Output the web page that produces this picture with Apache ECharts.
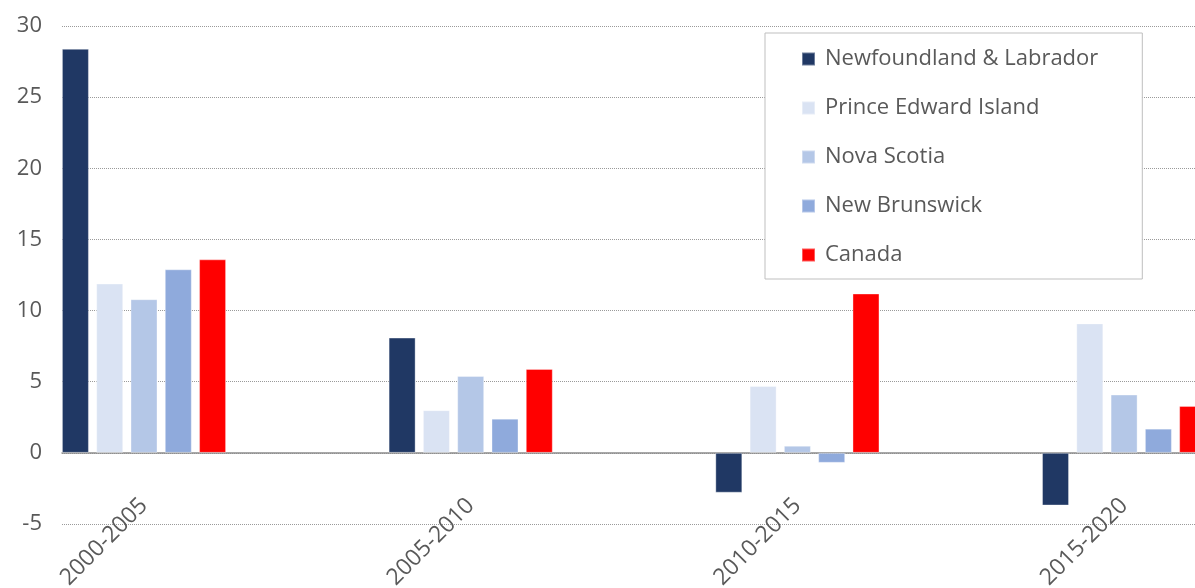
<!DOCTYPE html>
<html>
<head>
<meta charset="utf-8">
<script src="https://cdn.jsdelivr.net/npm/echarts@6/dist/echarts.min.js"></script>
<style>
html,body{margin:0;padding:0;background:#fff;}
#chart{width:1195px;height:588px;}
</style>
</head>
<body>
<div id="chart"></div>
<script>
// ---- data ----
const categories = ['2000-2005', '2005-2010', '2010-2015', '2015-2020'];
const seriesNames = ['Newfoundland & Labrador', 'Prince Edward Island', 'Nova Scotia', 'New Brunswick', 'Canada'];
const newfoundland = [28.4, 8.1, -2.8, -3.7];
const princeEdward = [11.9, 3.0, 4.7, 9.1];
const novaScotia = [10.8, 5.4, 0.5, 4.1];
const newBrunswick = [12.9, 2.4, -0.7, 1.7];
const canada = [13.6, 5.9, 11.2, 3.3];
const yTicks = [-5, 0, 5, 10, 15, 20, 25, 30];

const colors = ['#203864', '#dae3f3', '#b4c7e7', '#8faadc', '#ff0000'];
const values = [newfoundland, princeEdward, novaScotia, newBrunswick, canada];

const FONT = '"Open Sans", sans-serif';
const TXT = '#595959';

// layout: categories centred on the x value axis, one unit apart
const gridLeft = 62;
const firstCenterPx = 144;
const unitPx = 326.7;
const xMin = (gridLeft - firstCenterPx) / unitPx;
const xMax = (1195 - firstCenterPx) / unitPx;

const chart = echarts.init(document.getElementById('chart'), null, {renderer: 'canvas'});

const series = seriesNames.map((name, i) => ({
  name: name,
  type: 'bar',
  data: values[i].map((v, k) => [k, v]),
  barWidth: 27,
  barGap: '27%',
  itemStyle: {
    color: colors[i],
    borderColor: 'rgba(255,255,255,0.35)',
    borderWidth: 1
  },
  emphasis: {disabled: true}
}));

chart.setOption({
  animation: false,
  backgroundColor: '#ffffff',
  textStyle: {fontFamily: FONT},
  grid: {left: gridLeft, right: 0, top: 26, bottom: 64, containLabel: false, outerBoundsMode: 'none'},
  legend: {
    orient: 'vertical',
    left: 765,
    top: 33,
    data: seriesNames,
    icon: 'rect',
    itemWidth: 13,
    itemHeight: 13,
    itemGap: 27,
    padding: [15, 44, 13, 36],
    borderColor: '#bfbfbf',
    borderWidth: 1,
    backgroundColor: '#ffffff',
    textStyle: {fontFamily: FONT, fontSize: 22, color: TXT, lineHeight: 20, padding: [0, 0, 0, 5]}
  },
  xAxis: {
    type: 'value',
    min: xMin,
    max: xMax,
    splitLine: {show: false},
    axisTick: {show: false},
    axisLine: {show: true, onZero: true, lineStyle: {color: '#8c8c8c', width: 1.5}},
    axisLabel: {
      customValues: categories.map((c, i) => i),
      formatter: v => categories[Math.round(v)] || '',
      rotate: 45,
      margin: -22,
      fontSize: 23,
      color: TXT,
      fontFamily: FONT
    }
  },
  yAxis: {
    type: 'value',
    min: -5,
    max: 30,
    interval: 5,
    axisLine: {show: false},
    axisTick: {show: false},
    axisLabel: {
      fontSize: 22,
      color: TXT,
      margin: 20,
      fontFamily: FONT,
      formatter: v => yTicks.includes(v) ? String(v) : ''
    },
    splitLine: {show: true, lineStyle: {color: '#9a9a9a', type: 'dotted', width: 1}}
  },
  series: series
});
</script>
</body>
</html>
